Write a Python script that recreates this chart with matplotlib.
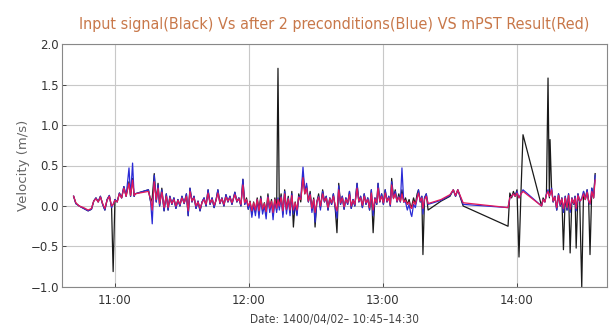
import pandas as pd
import matplotlib.pyplot as plt
import matplotlib.dates as mdates

# minutes after 10:00
minutes = [41.5, 42.5, 44, 46, 48, 49.5, 50.5, 51.5, 52.5, 53.5, 54.5, 55.5, 56.5, 57.5, 58.5, 59.2,
           60, 61, 62, 63, 64, 65, 66.3, 67, 67.9, 68.6, 69,
           75.0, 76.0, 76.7, 77.6, 78.5, 79.3, 80.0, 81.0, 82.0, 83.0, 83.8, 84.6, 85.5, 86.4, 87.3,
           88.2, 89.1, 90.0, 91.0, 92.0, 92.8, 93.6, 94.5, 95.4, 96.3, 97.2, 98.1, 99.0, 99.9, 100.8,
           101.7, 102.6, 103.5, 104.4, 105.3, 106.1, 107.0, 107.9, 108.8, 109.7, 110.6, 111.5, 112.4,
           113.7, 114.6, 115.5, 116.4, 117.3, 118.1, 118.9, 119.7, 120.5, 121.3, 122.1, 122.9, 123.7,
           124.5, 125.3, 126.1, 126.9, 127.7, 128.5, 129.3, 130.1, 130.8, 131.6, 132.4, 133.0, 133.6,
           134.4, 135.2, 136.0, 136.8, 137.6, 138.4, 139.2, 139.9, 140.7, 141.5, 142.3, 143.2, 144.2,
           145.0, 145.8, 146.6, 147.4, 148.2, 149.0, 149.6, 150.4, 151.2, 152.0, 153.0, 153.8, 154.6,
           155.4, 156.2, 157.0, 157.8, 158.6, 159.4, 160.2, 161.0, 161.8, 162.6, 163.4, 164.2, 165.0,
           165.8, 166.6, 167.4, 168.4, 169.2, 170.0, 170.8, 171.6, 172.4, 173.2, 174.0, 174.8, 175.6,
           176.4, 177.2, 177.8, 178.6, 179.4, 180.2, 181.0, 181.8, 182.6, 183.3, 183.9, 184.7, 185.5,
           186.3, 187.1, 187.8, 188.5, 189.3, 190.1, 190.9, 191.7, 192.5, 192.9, 193.7, 194.5, 195.3,
           195.9, 196.7, 197.4, 197.9, 198.6, 199.4, 200.2,
           206.0, 210.0, 211.5, 212.5, 213.5, 215.9,
           236.0, 236.8, 237.6, 238.4, 239.2, 240.0, 240.9, 241.8, 242.7, 251.0, 251.7, 252.5, 253.2,
           253.9, 254.5, 254.8, 255.5, 256.2, 257.0, 257.8, 258.6, 259.4, 260.1, 260.8, 261.6, 262.4,
           263.1, 263.8, 264.6, 265.4, 266.0, 266.5, 267.3, 268.1, 269.0, 269.8, 270.6, 271.4, 272.1,
           272.7, 273.5, 274.3, 275.0]

input_signal = [0.12, 0.03, 0.0, -0.03, -0.06, -0.04, 0.06, 0.1, 0.05, 0.12, 0.02, -0.05, 0.08, 0.13, -0.02, -0.81,
                0.08, 0.05, 0.16, 0.1, 0.24, 0.12, 0.3, 0.12, 0.34, 0.12, 0.15,
                0.20, 0.05, 0.10, 0.40, 0.05, 0.28, 0.00, 0.22, -0.06, 0.15, -0.05, 0.12, 0.02, 0.10, -0.03,
                0.08, 0.00, 0.12, 0.03, 0.15, -0.12, 0.22, 0.05, 0.12, -0.03, 0.06, -0.06, 0.05, 0.10, 0.00,
                0.20, 0.02, 0.10, -0.02, 0.08, 0.20, 0.03, 0.10, 0.00, 0.14, 0.05, 0.12, 0.02,
                0.17, 0.05, 0.10, 0.00, 0.33, 0.02, 0.10, -0.04, 0.06, -0.10, 0.05, -0.08, 0.10,
                -0.05, 0.12, -0.06, 0.04, -0.08, 0.15, -0.04, 0.08, -0.12, 0.10, -0.05, 1.70, -0.02,
                0.15, -0.10, 0.20, -0.05, 0.12, -0.08, 0.18, -0.26, 0.05, -0.10, 0.15, 0.05, 0.40,
                0.15, 0.25, 0.05, 0.18, -0.05, 0.10, -0.26, 0.05, 0.15, -0.02, 0.20, 0.05, 0.12,
                -0.05, 0.10, 0.02, 0.15, -0.02, -0.33, 0.28, 0.02, 0.12, -0.04, 0.10, 0.02, 0.18,
                -0.03, 0.08, 0.00, 0.28, 0.05, 0.12, -0.02, 0.15, 0.02, 0.10, -0.05, 0.20, -0.33,
                0.10, 0.02, 0.28, 0.05, 0.15, 0.02, 0.20, 0.05, 0.12, 0.00, 0.34, 0.10, 0.20,
                0.05, 0.15, 0.05, 0.20, 0.05, 0.10, 0.02, 0.08, -0.02, 0.00, 0.10, 0.02, 0.15,
                0.20, 0.05, 0.12, -0.60, 0.10, 0.15, -0.05,
                0.06, 0.12, 0.20, 0.12, 0.20, 0.00,
                -0.25, 0.16, 0.10, 0.18, 0.12, 0.20, -0.63, 0.18, 0.88, 0.00, 0.10, 0.05, 0.15,
                1.58, 0.10, 0.82, 0.20, 0.05, 0.12, -0.05, 0.15, 0.00, 0.10, -0.54, 0.12, -0.05,
                0.15, -0.58, 0.10, 0.02, 0.12, -0.52, 0.15, 0.05, -1.00, 0.18, 0.08, 0.20, 0.05,
                -0.60, 0.22, 0.10, 0.40]

preconditioned = [0.12, 0.03, 0.0, -0.03, -0.06, -0.04, 0.06, 0.1, 0.05, 0.12, 0.02, -0.05, 0.08, 0.13, -0.02, 0.02,
                  0.08, 0.05, 0.16, 0.1, 0.24, 0.12, 0.47, 0.12, 0.53, 0.12, 0.15,
                  0.20, 0.05, -0.22, 0.38, 0.05, 0.26, 0.00, 0.20, -0.06, 0.15, -0.05, 0.12, 0.02, 0.10, -0.03,
                  0.08, 0.00, 0.12, 0.03, 0.15, -0.12, 0.22, 0.05, 0.12, -0.03, 0.06, -0.06, 0.05, 0.10, 0.00,
                  0.20, 0.02, 0.10, -0.02, 0.08, 0.20, 0.03, 0.10, 0.00, 0.14, 0.05, 0.12, 0.02,
                  0.17, 0.05, 0.10, 0.00, 0.33, 0.02, 0.08, -0.04, 0.04, -0.14, 0.02, -0.12, 0.08,
                  -0.15, 0.10, -0.10, 0.00, -0.16, 0.12, -0.08, 0.05, -0.17, 0.08, -0.08, 0.10, -0.05,
                  0.12, -0.14, 0.18, -0.10, 0.10, -0.12, 0.15, -0.10, 0.03, -0.12, 0.12, 0.10, 0.48,
                  0.18, 0.28, 0.05, 0.15, -0.08, 0.08, -0.20, 0.05, 0.12, -0.05, 0.18, 0.05, 0.12,
                  -0.05, 0.10, 0.02, 0.15, -0.02, -0.15, 0.25, 0.02, 0.12, -0.04, 0.10, 0.02, 0.18,
                  -0.03, 0.08, 0.00, 0.28, 0.05, 0.12, -0.02, 0.15, 0.02, 0.10, -0.05, 0.20, -0.12,
                  0.10, 0.02, 0.28, 0.05, 0.15, 0.02, 0.20, 0.05, 0.12, 0.00, 0.30, 0.10, 0.18,
                  0.05, 0.12, 0.05, 0.47, 0.05, 0.05, -0.05, 0.02, -0.10, -0.13, 0.02, -0.02, 0.10,
                  0.20, 0.05, 0.12, -0.10, 0.10, 0.15, 0.02,
                  0.07, 0.13, 0.20, 0.12, 0.20, 0.02,
                  -0.02, 0.10, 0.12, 0.15, 0.12, 0.18, 0.10, 0.15, 0.20, 0.00, 0.08, 0.05, 0.15,
                  0.20, 0.12, 0.15, 0.22, 0.05, 0.12, -0.05, 0.15, 0.00, 0.10, -0.08, 0.12, -0.05,
                  0.15, -0.08, 0.10, 0.02, 0.12, -0.06, 0.15, 0.05, 0.10, 0.18, 0.08, 0.20, 0.05,
                  0.02, 0.22, 0.10, 0.38]

mpst_result = [0.12, 0.04, 0.0, -0.02, -0.05, -0.03, 0.06, 0.09, 0.05, 0.11, 0.03, -0.03, 0.07, 0.12, 0.0, 0.02,
               0.07, 0.05, 0.15, 0.1, 0.22, 0.12, 0.28, 0.13, 0.32, 0.13, 0.15,
               0.18, 0.08, -0.05, 0.30, 0.08, 0.22, 0.03, 0.17, -0.02, 0.12, -0.02, 0.10, 0.03, 0.08, 0.00,
               0.07, 0.02, 0.10, 0.04, 0.12, -0.06, 0.18, 0.06, 0.10, 0.00, 0.05, -0.03, 0.04, 0.08, 0.02,
               0.16, 0.04, 0.08, 0.01, 0.07, 0.16, 0.04, 0.09, 0.02, 0.11, 0.06, 0.10, 0.04,
               0.14, 0.06, 0.09, 0.02, 0.26, 0.04, 0.08, 0.00, 0.05, -0.06, 0.04, -0.05, 0.08,
               -0.06, 0.09, -0.04, 0.03, -0.07, 0.11, -0.03, 0.06, -0.08, 0.08, -0.03, 0.08, 0.00,
               0.11, -0.06, 0.15, -0.04, 0.09, -0.05, 0.13, -0.05, 0.04, -0.05, 0.11, 0.08, 0.35,
               0.15, 0.22, 0.06, 0.14, -0.03, 0.08, -0.08, 0.05, 0.11, 0.00, 0.15, 0.06, 0.10,
               -0.02, 0.09, 0.04, 0.12, 0.01, -0.06, 0.20, 0.04, 0.10, -0.01, 0.08, 0.04, 0.14,
               0.00, 0.07, 0.02, 0.22, 0.06, 0.10, 0.01, 0.12, 0.04, 0.08, -0.02, 0.16, -0.05,
               0.09, 0.04, 0.22, 0.06, 0.12, 0.04, 0.16, 0.06, 0.10, 0.02, 0.26, 0.09, 0.15,
               0.06, 0.11, 0.06, 0.15, 0.05, 0.07, 0.02, 0.05, -0.02, -0.03, 0.06, 0.02, 0.10,
               0.16, 0.06, 0.10, -0.03, 0.08, 0.12, 0.03,
               0.08, 0.14, 0.20, 0.13, 0.20, 0.04,
               -0.02, 0.10, 0.12, 0.15, 0.12, 0.16, 0.10, 0.15, 0.18, 0.00, 0.08, 0.05, 0.14,
               0.18, 0.12, 0.14, 0.20, 0.06, 0.11, -0.02, 0.13, 0.02, 0.09, -0.03, 0.10, -0.02,
               0.13, -0.04, 0.09, 0.03, 0.10, -0.03, 0.13, 0.06, 0.08, 0.15, 0.08, 0.17, 0.06,
               0.03, 0.18, 0.10, 0.32]

start = pd.Timestamp("2021-06-23 10:00")
times = start + pd.to_timedelta(minutes, unit="min")

fig = plt.figure(figsize=(6.09, 3.31), dpi=100)
ax = fig.add_axes([0.1018, 0.133, 0.8949, 0.734])

ax.plot(times, input_signal, color="#1a1a1a", lw=0.9)
ax.plot(times, preconditioned, color="#2b2bd6", lw=0.9)
ax.plot(times, mpst_result, color="#e3195a", lw=0.9)

ax.set_xlim(start + pd.Timedelta(minutes=36.3), start + pd.Timedelta(minutes=280.3))
ax.set_ylim(-1.0, 2.0)
ax.set_yticks([-1.0, -0.5, 0.0, 0.5, 1.0, 1.5, 2.0])
ax.xaxis.set_major_locator(mdates.HourLocator())
ax.xaxis.set_major_formatter(mdates.DateFormatter("%H:%M"))
ax.grid(True, color="#c8c8c8", lw=0.8)
ax.set_axisbelow(True)
for s in ax.spines.values():
    s.set_color("#888888")
    s.set_linewidth(0.8)
ax.tick_params(labelsize=8.5, colors="#333333", length=3, width=0.6, direction="in")
ax.tick_params(axis="y", pad=2)
ax.tick_params(axis="x", pad=5)

ax.set_title("Input signal(Black) Vs after 2 preconditions(Blue) VS mPST Result(Red)",
             color="#c8784a", fontsize=11.5, family="DejaVu Sans", stretch="condensed", pad=11)
ax.set_ylabel("Velocity (m/s)", fontsize=9.5, color="#666666")
ax.yaxis.set_label_coords(-0.058, 0.5)
ax.set_xlabel("Date: 1400/04/02\u2013 10:45\u201314:30", fontsize=8.5, color="#444444",
              family="DejaVu Sans", stretch="condensed")

fig.savefig("out.png", dpi=100)
